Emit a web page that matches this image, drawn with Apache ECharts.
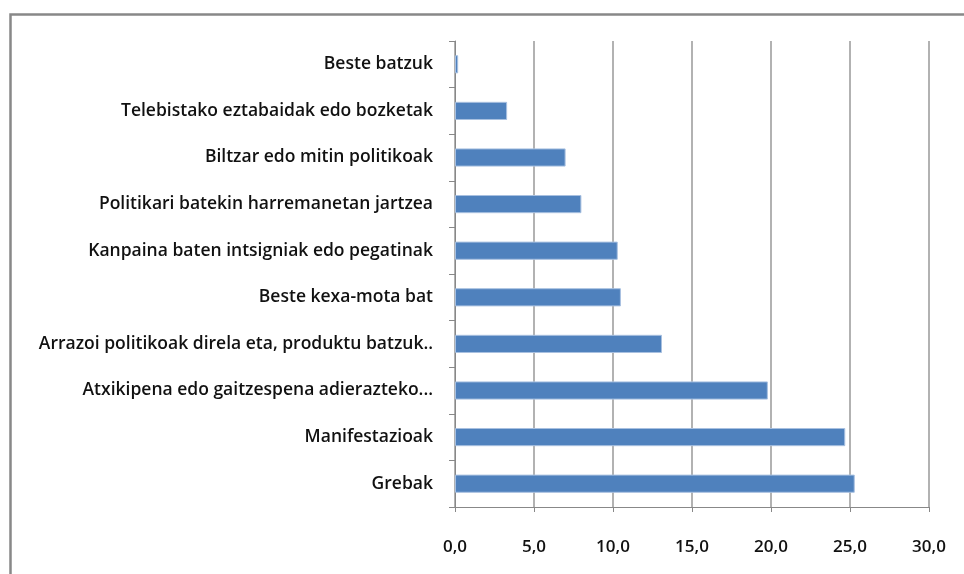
<!DOCTYPE html>
<html>
<head>
<meta charset="utf-8">
<script src="https://cdn.jsdelivr.net/npm/echarts@6/dist/echarts.min.js"></script>
<style>
  html, body { margin: 0; padding: 0; background: #fff; }
  #chart { width: 964px; height: 574px; }
</style>
</head>
<body>
<div id="chart"></div>
<script>
// categories, top to bottom
const categories = [
  'Beste batzuk',
  'Telebistako eztabaidak edo bozketak',
  'Biltzar edo mitin politikoak',
  'Politikari batekin harremanetan jartzea',
  'Kanpaina baten intsigniak edo pegatinak',
  'Beste kexa-mota bat',
  'Arrazoi politikoak direla eta, produktu batzuk..',
  'Atxikipena edo gaitzespena adierazteko...',
  'Manifestazioak',
  'Grebak'
];
const values = [0.2, 3.3, 7.0, 8.0, 10.3, 10.5, 13.1, 19.8, 24.7, 25.3];
const xTicks = [0, 5, 10, 15, 20, 25, 30];

const chart = echarts.init(document.getElementById('chart'));
const font = '"Open Sans", sans-serif';

chart.setOption({
  animation: false,
  backgroundColor: '#fff',
  graphic: [{
    type: 'rect',
    shape: { x: 10.5, y: 14.5, width: 1000, height: 700 },
    style: { fill: 'none', stroke: '#888', lineWidth: 2.5 },
    silent: true
  }],
  grid: { left: 455, right: 35, top: 41, bottom: 67 },
  xAxis: {
    type: 'value',
    min: xTicks[0],
    max: xTicks[xTicks.length - 1],
    interval: 5,
    axisLine: { show: true, lineStyle: { color: '#888', width: 1 } },
    axisTick: { show: true, length: 5, lineStyle: { color: '#888' } },
    splitLine: { show: true, lineStyle: { color: '#999', width: 1.5 } },
    axisLabel: {
      margin: 32,
      color: '#111',
      fontFamily: font,
      fontSize: 17,
      fontWeight: 600,
      formatter: v => v.toFixed(1).replace('.', ',')
    }
  },
  yAxis: {
    type: 'category',
    data: categories,
    inverse: true,
    axisLine: { show: true, lineStyle: { color: '#888', width: 1 } },
    axisTick: { show: true, length: 6, lineStyle: { color: '#888' } },
    axisLabel: {
      margin: 22,
      color: '#111',
      fontFamily: font,
      fontSize: 17.5,
      fontWeight: 600
    }
  },
  series: [{
    type: 'bar',
    data: values,
    barWidth: '39%',
    itemStyle: {
      color: '#4F81BD',
      borderColor: '#a8c0e0',
      borderWidth: 1
    }
  }]
});
</script>
</body>
</html>
